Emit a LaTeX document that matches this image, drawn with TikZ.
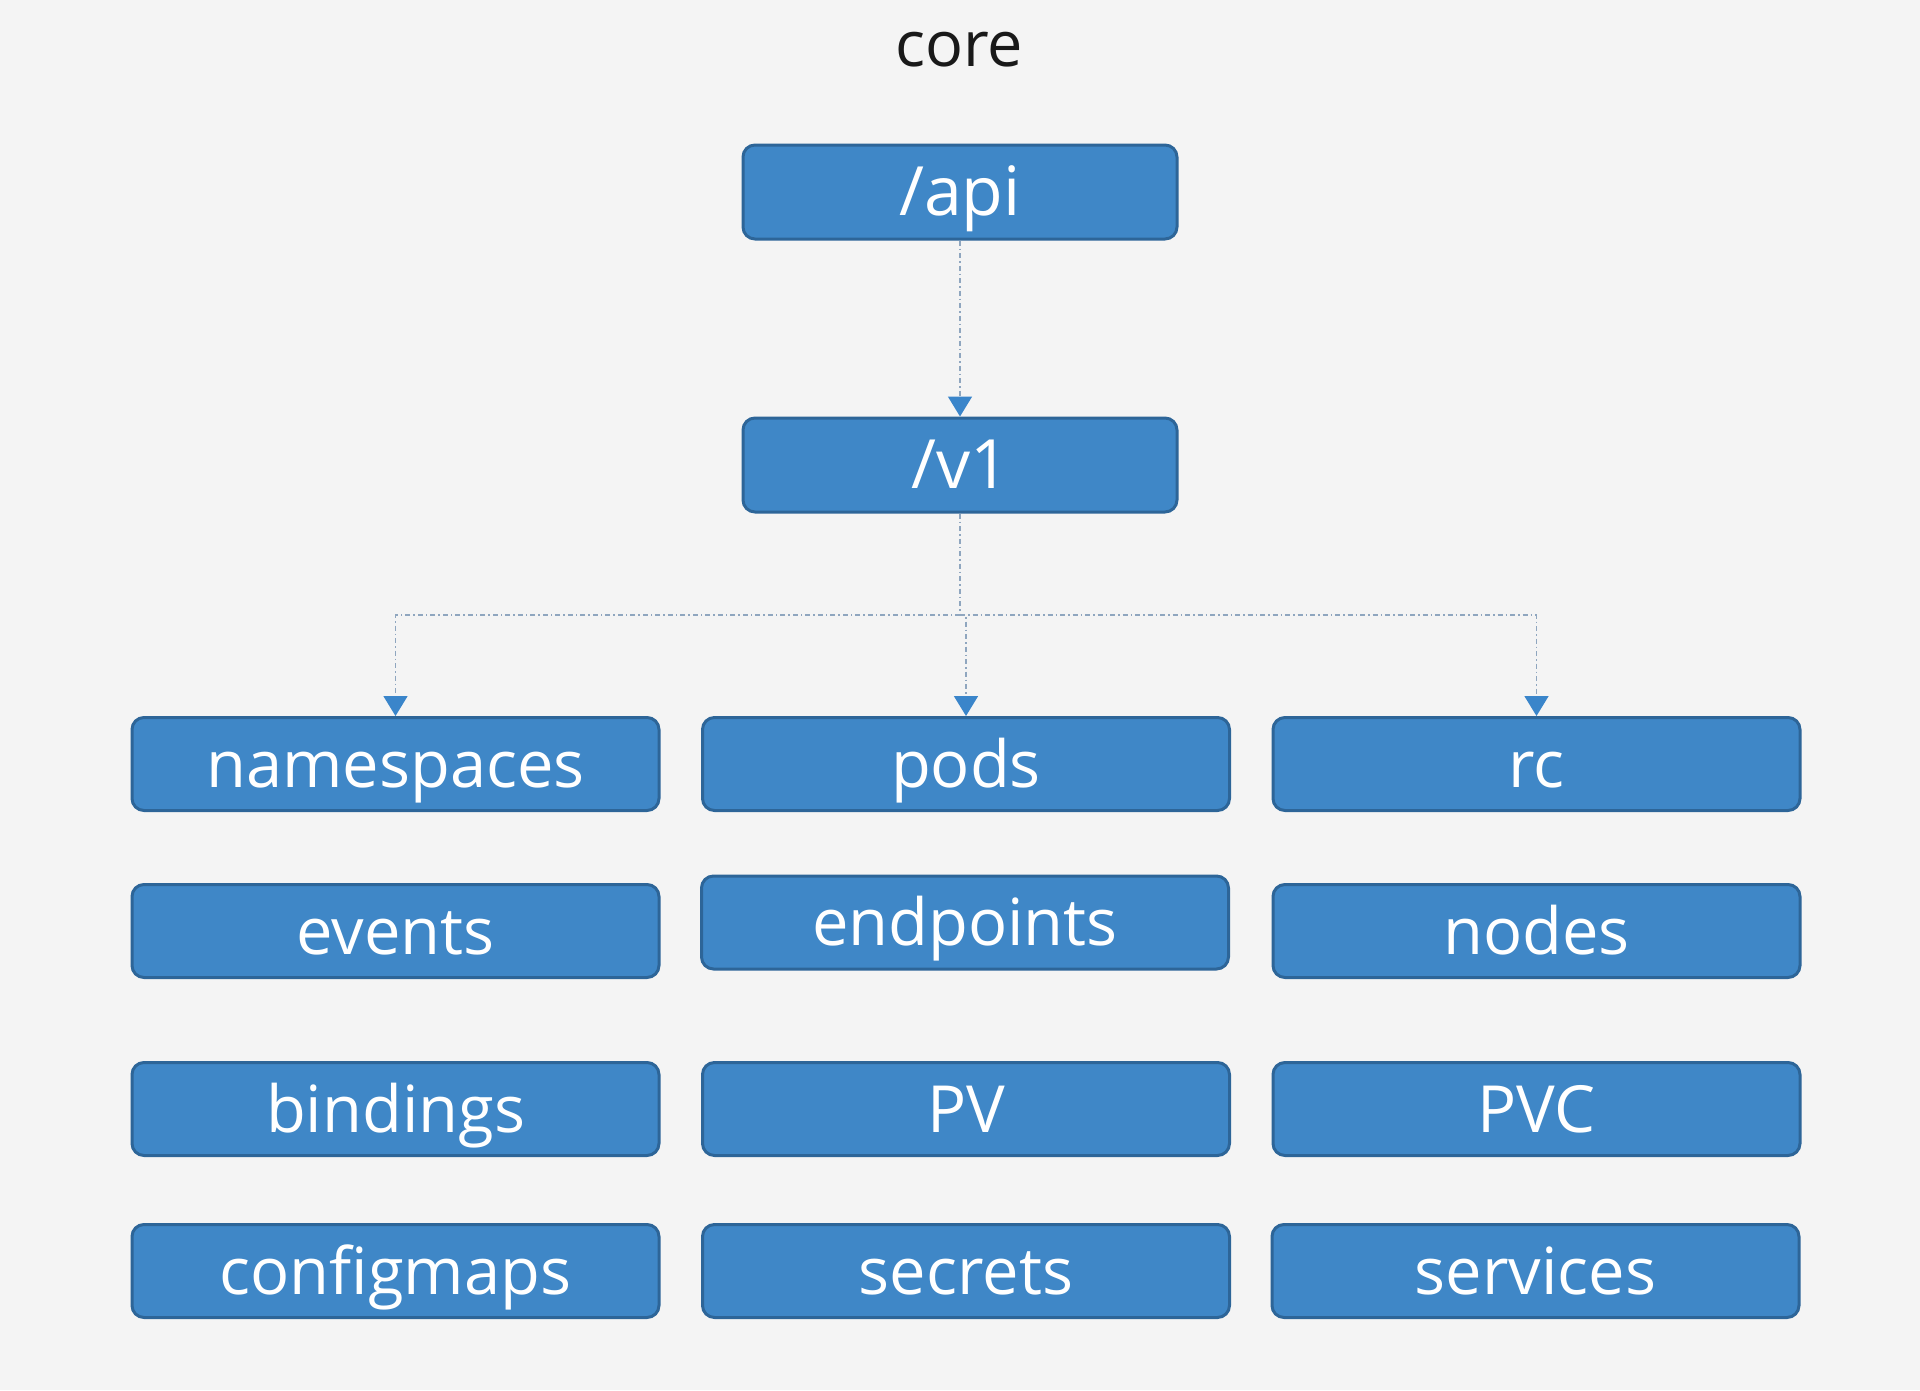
\documentclass[tikz,border=0pt]{standalone}
\usepackage{fontspec}
\setmainfont{Open Sans}
\usetikzlibrary{arrows.meta}
\definecolor{boxfill}{HTML}{3F87C7}
\definecolor{boxline}{HTML}{2D6598}
\definecolor{bgcol}{HTML}{F4F4F4}
\definecolor{linkcol}{HTML}{8FA6BF}
\definecolor{tipcol}{HTML}{3A85CA}
\begin{document}
\begin{tikzpicture}[x=1pt,y=-1pt,
  box/.style={draw=boxline, line width=3pt, fill=boxfill, rounded corners=12pt,
    minimum width=527pt, minimum height=93pt, text=white, inner sep=0pt,
    text height=54pt, text depth=8pt,
    font=\fontsize{65}{65}\selectfont},
  topbox/.style={box, minimum width=434pt, minimum height=94pt, font=\fontsize{68}{68}\selectfont},
  linkline/.style={draw=linkcol, line width=1.6pt, dash pattern=on 5pt off 3pt on 1.5pt off 3pt},
  tipped/.style={-{Triangle[length=20pt,width=24pt,fill=tipcol,color=tipcol]}}
]
\fill[bgcol] (0,0) rectangle (1920,1390);
\useasboundingbox (0,0) rectangle (1920,1390);

\node[font=\fontsize{63}{63}\selectfont, text=black!90] (title) at (959,50) {core};

\node[topbox] (api) at (960,192) {/api};
\node[topbox] (v1) at (960,465) {/v1};

\node[box] (namespaces) at (395.5,764) {namespaces};
\node[box] (pods) at (966,764) {pods};
\node[box] (rc) at (1536.5,764) {rc};

\node[box] (events) at (395.5,931) {events};
\node[box] (endpoints) at (965,922.5) {endpoints};
\node[box] (nodes) at (1536.5,931) {nodes};

\node[box] (bindings) at (395.5,1109) {bindings};
\node[box] (pv) at (966,1109) {PV};
\node[box] (pvc) at (1536.5,1109) {PVC};

\node[box] (configmaps) at (395.5,1271) {configmaps};
\node[box] (secrets) at (966,1271) {secrets};
\node[box] (services) at (1535.5,1271) {services};

\coordinate (hub) at (960,615);

\draw[linkline, tipped] (api.south) -- (v1.north);
\draw[linkline] (v1.south) -- (hub);
\draw[linkline, tipped] (hub) -| (namespaces.north);
\draw[linkline, tipped] (hub) -| (pods.north);
\draw[linkline, tipped] (hub) -| (rc.north);
\end{tikzpicture}
\end{document}
